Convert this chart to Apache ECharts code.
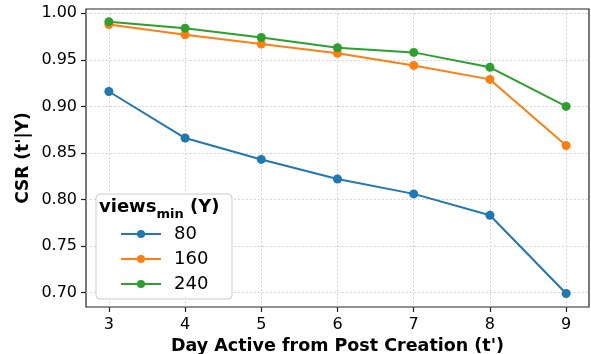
<!DOCTYPE html>
<html><head><meta charset="utf-8">
<script src="https://cdn.jsdelivr.net/npm/echarts@6/dist/echarts.min.js"></script>
<style>html,body{margin:0;padding:0;background:#fff}#c{width:591px;height:354px}</style>
</head><body><div id="c"></div>
<script>
var days = [3, 4, 5, 6, 7, 8, 9];
var xTicks = [3, 4, 5, 6, 7, 8, 9];
var yTicks = [0.70, 0.75, 0.80, 0.85, 0.90, 0.95, 1.00];
var seriesNames = ['80', '160', '240'];
var csr80  = [0.916, 0.866, 0.843, 0.822, 0.806, 0.783, 0.699];
var csr160 = [0.988, 0.977, 0.967, 0.957, 0.944, 0.929, 0.858];
var csr240 = [0.991, 0.984, 0.974, 0.963, 0.958, 0.942, 0.900];
var colors = ['#1f77b4', '#ff7f0e', '#2ca02c'];
var allVals = [csr80, csr160, csr240];

var F = 'DejaVu Sans';
function pairs(v){ return days.map(function(d,i){ return [d, v[i]]; }); }

var series = allVals.map(function(v, k){
  return {
    name: seriesNames[k], type: 'line', data: pairs(v),
    symbol: 'circle', symbolSize: 9, z: 3,
    lineStyle: {width: 2, color: colors[k]},
    itemStyle: {color: colors[k]},
    emphasis: {disabled: true}, animation: false
  };
});
var gridLines = [];
xTicks.forEach(function(t){ gridLines.push({xAxis: t}); });
yTicks.forEach(function(t){ gridLines.push({yAxis: t}); });
series.unshift({
  name: '_grid', type: 'line', data: [], z: 1, silent: true,
  markLine: {z: 1, silent: true, symbol: ['none','none'], animation: false,
    label: {show: false},
    lineStyle: {color: '#c8c8c8', type: [1.5, 2.5], width: 1},
    emphasis: {disabled: true},
    data: gridLines}
});

var chart = echarts.init(document.getElementById('c'), null, {renderer: 'canvas'});
chart.setOption({
  animation: false,
  backgroundColor: '#fff',
  grid: {left: 86, right: 2, top: 9, bottom: 47, show: true, borderColor: '#222', borderWidth: 1.2,
    backgroundColor: 'transparent', containLabel: false, outerBoundsMode: 'none'},
  xAxis: {
    type: 'value', min: 2.7, max: 9.3,
    name: "Day Active from Post Creation (t')", nameLocation: 'middle', nameGap: 28,
    nameTextStyle: {fontFamily: F, fontWeight: 'bold', fontSize: 17.5, color: '#000'},
    axisLine: {show: false},
    axisTick: {show: true, inside: false, length: 5, customValues: xTicks, lineStyle: {color: '#222', width: 1.2}},
    axisLabel: {customValues: xTicks, fontFamily: F, fontSize: 16, color: '#000', margin: 10},
    splitLine: {show: false}
  },
  yAxis: {
    type: 'value', min: 0.6845, max: 1.0046,
    name: "CSR (t'|Y)", nameLocation: 'middle', nameGap: 54, nameRotate: 90, nameMoveOverlap: false,
    nameTextStyle: {fontFamily: F, fontWeight: 'bold', fontSize: 17, color: '#000'},
    axisLine: {show: false},
    axisTick: {show: true, inside: false, length: 5, customValues: yTicks, lineStyle: {color: '#222', width: 1.2}},
    axisLabel: {customValues: yTicks, fontFamily: F, fontSize: 16, color: '#000', margin: 9,
      formatter: function(v){ return v.toFixed(2); }},
    splitLine: {show: false}
  },
  legend: {
    data: seriesNames, orient: 'vertical', left: 115, top: 220, z: 6,
    itemWidth: 40, itemHeight: 10, itemGap: 7,
    textStyle: {fontFamily: F, fontSize: 18, color: '#000', padding: [0,0,0,8], lineHeight: 18},
    selectedMode: false
  },
  graphic: [
    {type: 'rect', z: 5, shape: {x: 96, y: 194, width: 136, height: 105, r: 4},
     style: {fill: 'rgba(255,255,255,0.85)', stroke: '#cccccc', lineWidth: 1}},
    {type: 'text', z: 6, left: 99, top: 198,
     style: {text: '{a|views}{b|min}{a| (Y)}', fontFamily: F,
       rich: {
         a: {fontFamily: F, fontWeight: 'bold', fontSize: 18, fill: '#000', lineHeight: 22, verticalAlign: 'bottom'},
         b: {fontFamily: F, fontWeight: 'bold', fontSize: 13, fill: '#000', lineHeight: 22, verticalAlign: 'bottom', padding: [0,0,-5,0]}
       }}}
  ],
  series: series
});
</script></body></html>
